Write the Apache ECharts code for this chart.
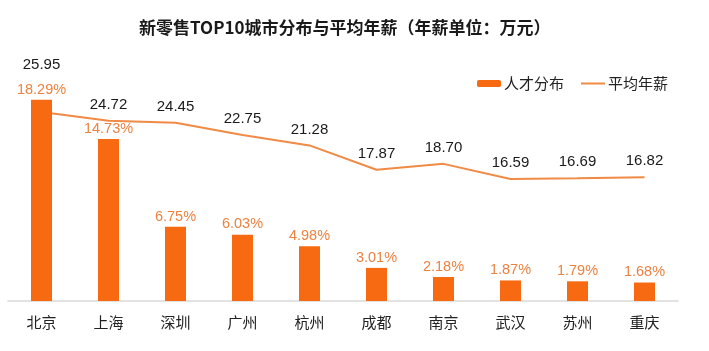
<!DOCTYPE html>
<html>
<head>
<meta charset="utf-8">
<script src="https://cdn.jsdelivr.net/npm/echarts@6/dist/echarts.min.js"></script>
<style>html,body{margin:0;padding:0;background:#fff}#c{width:709px;height:351px}</style>
</head>
<body>
<div id="c"></div>
<script>
const cities = ['北京','上海','深圳','广州','杭州','成都','南京','武汉','苏州','重庆'];
const talentShare = [18.29,14.73,6.75,6.03,4.98,3.01,2.18,1.87,1.79,1.68];
const avgSalary = [25.95,24.72,24.45,22.75,21.28,17.87,18.70,16.59,16.69,16.82];
const seriesNames = ['人才分布','平均年薪'];
const titleText = '新零售TOP10城市分布与平均年薪（年薪单位：万元）';

const numFont = '"Liberation Sans", Arial, "Noto Sans CJK SC", sans-serif';
const cjkFont = '"Noto Sans CJK SC", "Liberation Sans", sans-serif';

const chart = echarts.init(document.getElementById('c'), null, {renderer:'canvas'});
chart.setOption({
  animation: false,
  backgroundColor: '#fff',
  title: {
    text: titleText,
    left: 134, top: 14,
    textStyle: {fontFamily: cjkFont, fontSize: 17, fontWeight: 'bold', color: '#1a1a1a'}
  },
  legend: {
    data: seriesNames,
    left: 472, top: 71,
    itemWidth: 24, itemHeight: 7, itemGap: 16,
    textStyle: {fontFamily: cjkFont, fontSize: 15, color: '#222', padding: [0,0,0,-2]}
  },
  grid: {left: 8, right: 31, top: 26, bottom: 50, containLabel: false},
  xAxis: {
    type: 'category',
    data: cities,
    boundaryGap: true,
    axisLine: {show: true, lineStyle: {color: '#d9d9d9', width: 1.5}},
    axisTick: {show: false},
    axisLabel: {fontFamily: cjkFont, fontSize: 15, color: '#222', margin: 14}
  },
  yAxis: [
    {type: 'value', min: 0, max: 25, show: false, splitLine: {show: false}},
    {type: 'value', min: -0.5, max: 38, show: false, splitLine: {show: false}}
  ],
  series: [
    {
      name: seriesNames[0],
      type: 'bar',
      yAxisIndex: 0,
      data: talentShare,
      barWidth: 21,
      z: 3,
      itemStyle: {color: '#F86A12'},
      label: {
        show: true, position: 'top', distance: 3,
        formatter: p => p.value.toFixed(2) + '%',
        fontFamily: numFont, fontSize: 14.5, color: '#EC8242'
      }
    },
    {
      name: seriesNames[1],
      type: 'line',
      yAxisIndex: 1,
      data: avgSalary.map((v, i) => i === 0 ? {value: v, label: {offset: [0, -31]}} : v),
      symbol: 'circle',
      symbolSize: 1,
      showSymbol: true,
      z: 1,
      lineStyle: {color: '#F08A45', width: 2},
      itemStyle: {color: 'rgba(0,0,0,0)', borderWidth: 0},
      label: {
        show: true, position: 'top', distance: 8,
        formatter: p => p.value.toFixed(2),
        fontFamily: numFont, fontSize: 15, color: '#1a1a1a'
      }
    }
  ]
});
</script>
</body>
</html>
